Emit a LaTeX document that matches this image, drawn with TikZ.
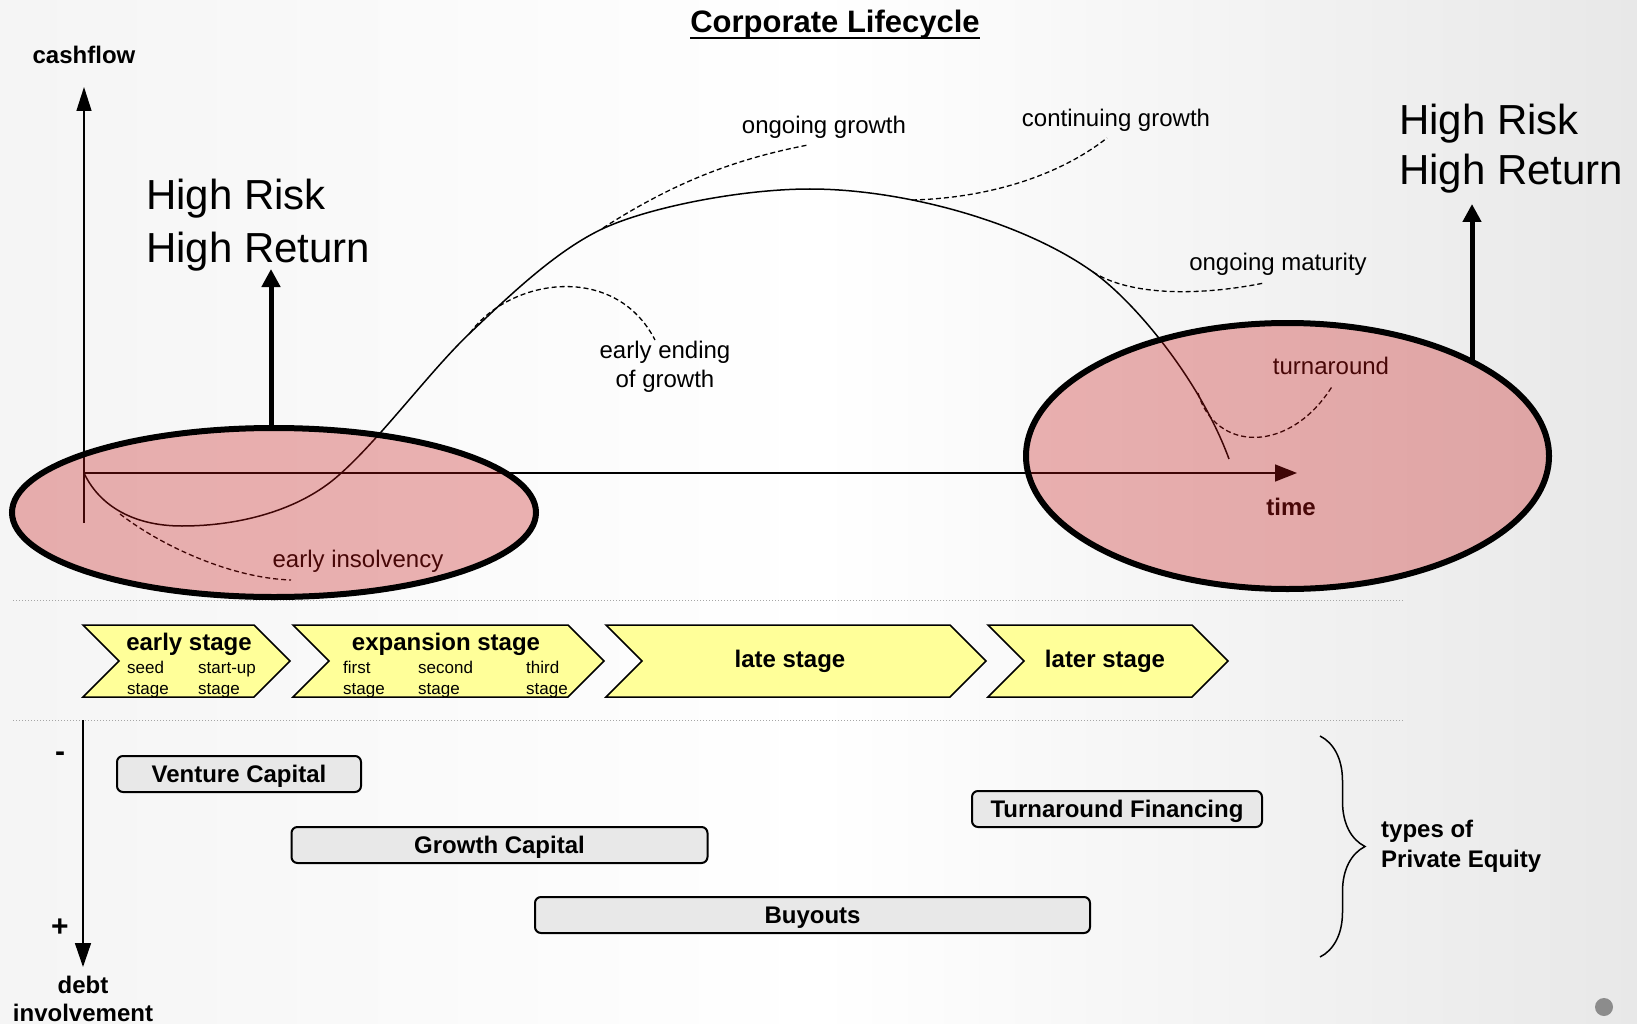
\documentclass[tikz,border=0pt]{standalone}
\usepackage{fontspec}
\setmainfont{Liberation Sans}
\usetikzlibrary{arrows.meta,shapes.geometric,decorations.pathreplacing}
\definecolor{ellred}{HTML}{C71414}
\definecolor{darkmaroon}{HTML}{480707}
\definecolor{chevy}{HTML}{FFFF99}
\definecolor{boxgray}{HTML}{E8E8E8}
\newcommand\fsz[1]{\fontsize{#1}{#1}\selectfont}
\begin{document}
\begin{tikzpicture}[x=1pt,y=-1pt,
  lbl/.style={inner sep=0, anchor=base, font=\fsz{24}},
  blbl/.style={inner sep=0, anchor=base, font=\fsz{24}\bfseries},
  smalltxt/.style={inner sep=0, anchor=base west, font=\fsz{17}},
  bigtxt/.style={inner sep=0, anchor=base west, font=\fsz{42}},
  dashcurve/.style={dash pattern=on 5pt off 3pt, line width=1.3},
  ell/.style={ellipse, draw=black, line width=6, fill=ellred, fill opacity=0.32, inner sep=0},
  chev/.style={draw=black, line width=1.5, fill=chevy, line join=miter},
  pebox/.style={rectangle, rounded corners=6, draw=black, line width=2, fill=boxgray, inner sep=0, text height=17pt, text depth=0pt, font=\fsz{24}\bfseries},
  sepline/.style={draw=black!35, dotted, line width=1},
  thickarrow/.style={line width=5, -{Triangle[length=18pt,width=18pt]}},
  axisline/.style={line width=1.5},
]
\useasboundingbox (0,0) rectangle (1637,1024);
\shade[left color=black!4, right color=black!9, middle color=white] (0,0) rectangle (1637,1024);

% separators
\coordinate (s1a) at (13,600); \coordinate (s1b) at (1404,600);
\coordinate (s2a) at (13,720); \coordinate (s2b) at (1404,720);
\draw[sepline] (s1a) -- (s1b);
\draw[sepline] (s2a) -- (s2b);

% title
\node[inner sep=0, anchor=base, font=\fsz{31}\bfseries] (title) at (835,33) {Corporate Lifecycle};
\draw[line width=2.5] ([yshift=-5pt]title.base west) -- ([yshift=-5pt]title.base east);

% axes
\node[blbl] (cf) at (84,64) {cashflow};
\coordinate (O) at (84,473);
\coordinate (ybot) at (84,523);
\coordinate (ytop) at (84,87);
\coordinate (xend) at (1297,473);
\draw[axisline, -{Triangle[length=24pt,width=15pt]}] (ybot) -- (ytop);
\draw[axisline, -{Triangle[length=22pt,width=17pt]}] (O) -- (xend);

% main curve
\coordinate (c1) at (182,526);
\coordinate (c2) at (339,475);
\coordinate (c3) at (470,333);
\coordinate (c4) at (600,230);
\coordinate (c5) at (810,189);
\coordinate (c6) at (1093,272);
\coordinate (c7) at (1229,459);
\draw[line width=1.5] (O) .. controls (98,503) and (130,526) .. (c1)
  .. controls (240,526) and (300,510) .. (c2)
  .. controls (380,439) and (430,371) .. (c3)
  .. controls (510,295) and (555,252) .. (c4)
  .. controls (645,208) and (740,189) .. (c5)
  .. controls (900,189) and (1020,220) .. (c6)
  .. controls (1135,302) and (1200,380) .. (c7);

% dashed branches
\coordinate (ins0) at (120,514); \coordinate (ins1) at (291,580);
\coordinate (ee0) at (470,333); \coordinate (ee1) at (655,340);
\coordinate (og0) at (603,228); \coordinate (og1) at (808,145);
\coordinate (cg0) at (912,200); \coordinate (cg1) at (1107,138);
\coordinate (om0) at (1093,272); \coordinate (om1) at (1264,283);
\coordinate (ta0) at (1198,393); \coordinate (ta1) at (1333,385);
\draw[dashcurve] (ins0) .. controls (160,545) and (230,578) .. (ins1);
\draw[dashcurve] (ee0) .. controls (510,278) and (615,262) .. (ee1);
\draw[dashcurve] (og0) .. controls (670,185) and (730,160) .. (og1);
\draw[dashcurve] (cg0) .. controls (990,198) and (1060,175) .. (cg1);
\draw[dashcurve] (om0) .. controls (1130,296) and (1200,296) .. (om1);
\draw[dashcurve] (ta0) .. controls (1215,452) and (1290,455) .. (ta1);

% ellipses
\node[ell, minimum width=524, minimum height=169] (le) at (274,512.5) {};
\node[ell, minimum width=523, minimum height=266] (re) at (1287.5,456) {};

% thick arrows
\coordinate (lb) at (271,428); \coordinate (lt) at (271,269);
\coordinate (rb) at (1472,362); \coordinate (rt) at (1472,204);
\draw[thickarrow] (lb) -- (lt);
\draw[thickarrow] (rb) -- (rt);

% High risk labels
\node[bigtxt] (hr1) at (146,210) {High Risk};
\node[bigtxt] (hr2) at (146,262) {High Return};
\node[bigtxt] (hr3) at (1399,135) {High Risk};
\node[bigtxt] (hr4) at (1399,185) {High Return};

% curve labels
\node[lbl] (ogl) at (824,134) {ongoing growth};
\node[lbl] (cgl) at (1116,127) {continuing growth};
\node[lbl] (oml) at (1278,270) {ongoing maturity};
\node[lbl] (eel1) at (665,358) {early ending};
\node[lbl] (eel2) at (665,387) {of growth};
\node[lbl, text=darkmaroon] (insl) at (358,567) {early insolvency};
\node[lbl, text=darkmaroon] (tal) at (1331,374) {turnaround};
\node[blbl, text=darkmaroon] (timel) at (1291,515) {time};

% chevrons
\draw[chev] (83,625) -- (254,625) -- (290,661) -- (254,697) -- (83,697) -- (119,661) -- cycle;
\draw[chev] (293,625) -- (568,625) -- (604,661) -- (568,697) -- (293,697) -- (329,661) -- cycle;
\draw[chev] (606,625) -- (950,625) -- (986,661) -- (950,697) -- (606,697) -- (642,661) -- cycle;
\draw[chev] (988,625) -- (1192,625) -- (1228,661) -- (1192,697) -- (988,697) -- (1024,661) -- cycle;

\node[blbl] (es) at (189,650) {early stage};
\node[smalltxt] (seed1) at (127,673) {seed};
\node[smalltxt] (seed2) at (127,694) {stage};
\node[smalltxt] (su1) at (198,673) {start-up};
\node[smalltxt] (su2) at (198,694) {stage};
\node[blbl] (xs) at (446,650) {expansion stage};
\node[smalltxt] (fi1) at (343,673) {first};
\node[smalltxt] (fi2) at (343,694) {stage};
\node[smalltxt] (se1) at (418,673) {second};
\node[smalltxt] (se2) at (418,694) {stage};
\node[smalltxt] (th1) at (526,673) {third};
\node[smalltxt] (th2) at (526,694) {stage};
\node[blbl] (ls) at (790,667) {late stage};
\node[blbl] (lrs) at (1105,667) {later stage};

% private equity boxes
\node[pebox, minimum width=244, minimum height=36] (vc) at (239,774) {Venture Capital};
\node[pebox, minimum width=416, minimum height=36] (gc) at (499.5,845) {Growth Capital};
\node[pebox, minimum width=290, minimum height=36] (tf) at (1117,809) {Turnaround Financing};
\node[pebox, minimum width=555, minimum height=36] (bo) at (812.5,915) {Buyouts};

% debt axis
\coordinate (dtop) at (83,720); \coordinate (dbot) at (83,967);
\draw[axisline, -{Triangle[length=24pt,width=16pt]}] (dtop) -- (dbot);
\node[inner sep=0, font=\fsz{30}\bfseries] (minus) at (60,757) {-};
\node[inner sep=0, font=\fsz{30}\bfseries] (plus) at (60,928) {+};
\node[blbl] (debt) at (83,993) {debt};
\node[blbl] (inv) at (83,1021) {involvement};

% brace
\coordinate (bt) at (1320,736); \coordinate (bb) at (1320,957);
\draw[line width=1.5, decorate, decoration={brace, amplitude=45pt}] (bt) -- (bb);
\node[inner sep=0, anchor=base west, font=\fsz{24}\bfseries] (tp1) at (1381,837) {types of};
\node[inner sep=0, anchor=base west, font=\fsz{24}\bfseries] (tp2) at (1381,867) {Private Equity};

% page dot
\fill[black!45] (1604,1007) circle (9);
\end{tikzpicture}
\end{document}
